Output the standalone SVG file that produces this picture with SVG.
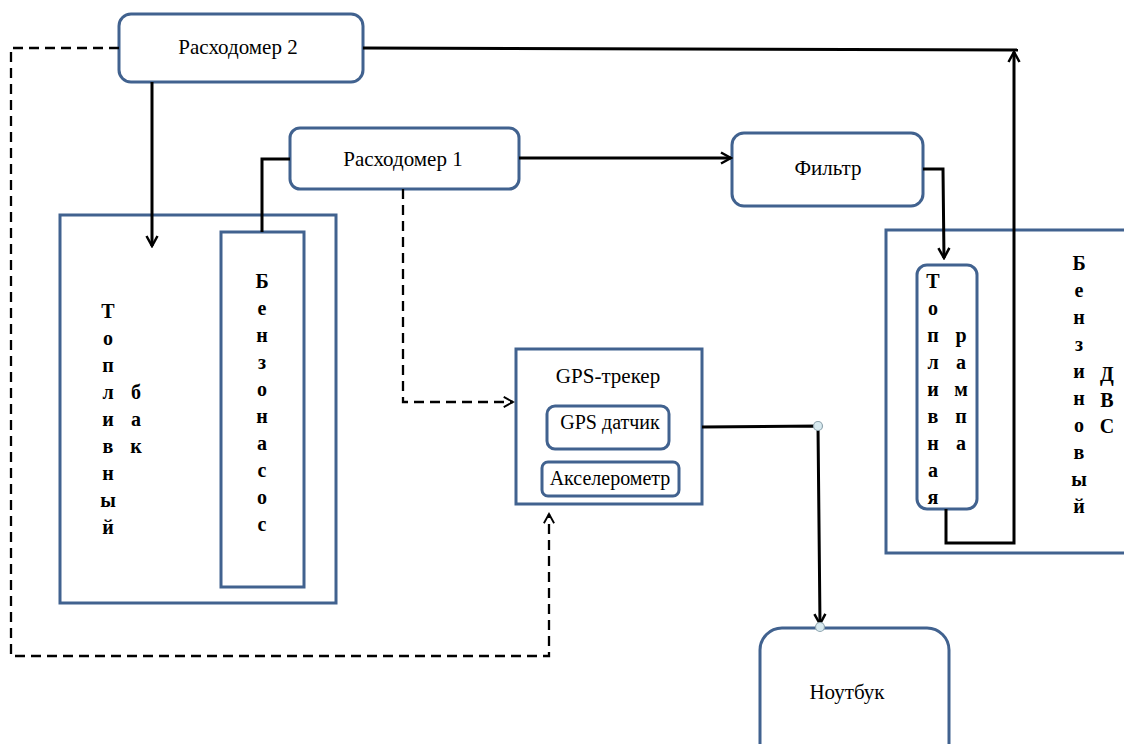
<svg xmlns="http://www.w3.org/2000/svg" width="1124" height="744" viewBox="0 0 1124 744">
<style>
.box{fill:#fff;stroke:#41628f;stroke-width:3}
.t{font-family:"Liberation Serif",serif;font-size:21px;fill:#000;text-anchor:middle}
.s{font-size:20px}
.v{font-family:"Liberation Serif",serif;font-size:20px;font-weight:bold;fill:#000;text-anchor:middle}
.ln{fill:none;stroke:#000;stroke-width:3}
.dash{fill:none;stroke:#000;stroke-width:2.3;stroke-dasharray:10,6}
.dot{fill:#d8eaf0;stroke:#8fa4ae;stroke-width:1.2}
</style>
<defs>
<marker id="arr" viewBox="0 0 14 14" refX="12" refY="7" markerWidth="14" markerHeight="14" markerUnits="userSpaceOnUse" orient="auto">
<path d="M2,1.5 L12,7 L2,12.5" fill="none" stroke="#000" stroke-width="2.5"/>
</marker>
<marker id="arrd" viewBox="0 0 14 14" refX="12" refY="7" markerWidth="13" markerHeight="13" markerUnits="userSpaceOnUse" orient="auto">
<path d="M2,1.5 L12,7 L2,12.5" fill="none" stroke="#000" stroke-width="2"/>
</marker>
</defs>
<rect width="1124" height="744" fill="#fff"/>

<g id="tank">
<rect class="box" x="60" y="215" width="276" height="388"/>
<text class="v" x="108" y="318">Т</text>
<text class="v" x="108" y="345">о</text>
<text class="v" x="108" y="372">п</text>
<text class="v" x="108" y="399">л</text>
<text class="v" x="108" y="426">и</text>
<text class="v" x="108" y="453">в</text>
<text class="v" x="108" y="480">н</text>
<text class="v" x="108" y="507">ы</text>
<text class="v" x="108" y="534">й</text>
<text class="v" x="136" y="399">б</text>
<text class="v" x="136" y="426">а</text>
<text class="v" x="136" y="453">к</text>
</g>
<g id="pump">
<rect class="box" x="221" y="232" width="83" height="355"/>
<text class="v" x="262" y="288">Б</text>
<text class="v" x="262" y="315">е</text>
<text class="v" x="262" y="342">н</text>
<text class="v" x="262" y="369">з</text>
<text class="v" x="262" y="396">о</text>
<text class="v" x="262" y="423">н</text>
<text class="v" x="262" y="450">а</text>
<text class="v" x="262" y="477">с</text>
<text class="v" x="262" y="504">о</text>
<text class="v" x="262" y="531">с</text>
</g>
<g id="flow2">
<rect class="box" x="119" y="14" width="244" height="68" rx="12"/>
<text class="t" x="238" y="54">Расходомер 2</text>
</g>
<g id="flow1">
<rect class="box" x="290" y="128" width="229" height="61" rx="10"/>
<text class="t" x="403" y="166">Расходомер 1</text>
</g>
<g id="filter">
<rect class="box" x="732" y="133" width="191" height="73" rx="12"/>
<text class="t" x="828" y="175">Фильтр</text>
</g>
<g id="engine">
<rect class="box" x="886" y="230" width="250" height="323"/>
<text class="v" x="1079" y="270">Б</text>
<text class="v" x="1079" y="297">е</text>
<text class="v" x="1079" y="324">н</text>
<text class="v" x="1079" y="351">з</text>
<text class="v" x="1079" y="378">и</text>
<text class="v" x="1079" y="405">н</text>
<text class="v" x="1079" y="432">о</text>
<text class="v" x="1079" y="459">в</text>
<text class="v" x="1079" y="486">ы</text>
<text class="v" x="1079" y="513">й</text>
<text class="v" x="1107" y="381">Д</text>
<text class="v" x="1107" y="407">В</text>
<text class="v" x="1107" y="433">С</text>
</g>
<g id="rail">
<rect class="box" x="917" y="265" width="60" height="244" rx="10"/>
<text class="v" x="933" y="288">Т</text>
<text class="v" x="933" y="315">о</text>
<text class="v" x="933" y="342">п</text>
<text class="v" x="933" y="369">л</text>
<text class="v" x="933" y="396">и</text>
<text class="v" x="933" y="423">в</text>
<text class="v" x="933" y="450">н</text>
<text class="v" x="933" y="477">а</text>
<text class="v" x="933" y="504">я</text>
<text class="v" x="961" y="342">р</text>
<text class="v" x="961" y="369">а</text>
<text class="v" x="961" y="396">м</text>
<text class="v" x="961" y="423">п</text>
<text class="v" x="961" y="450">а</text>
</g>
<g id="gps">
<rect class="box" x="516" y="349" width="186" height="155"/>
<text class="t" x="608" y="383">GPS-трекер</text>
</g>
<g id="gps-sensor">
<rect class="box" x="547" y="406" width="122" height="43" rx="8"/>
<text class="t s" x="610" y="429">GPS датчик</text>
</g>
<g id="accel">
<rect class="box" x="542" y="462" width="137" height="34" rx="6"/>
<text class="t s" x="610" y="485">Акселерометр</text>
</g>
<g id="laptop">
<rect class="box" x="760" y="628" width="189" height="140" rx="22"/>
<text class="t" x="847" y="699">Ноутбук</text>
</g>

<g id="connectors">
<path class="ln" d="M152,82 L152,246" marker-end="url(#arr)"/>
<path class="ln" d="M290,159 L262,159 L262,232"/>
<path class="ln" d="M519,158 L731,158" marker-end="url(#arr)"/>
<path class="ln" d="M923,169 L943,169 L944,258" marker-end="url(#arr)"/>
<path class="ln" d="M363,48 L1018,50"/>
<path class="ln" d="M946,509 L946,543 L1014,543 L1014,52" marker-end="url(#arr)"/>
<path class="dash" d="M119,48 L11,48 L11,656 L549,656 L549,514" marker-end="url(#arrd)"/>
<path class="dash" d="M403,189 L403,402 L513,402" marker-end="url(#arrd)"/>
<path class="ln" d="M702,427 L818,426 L820,624" marker-end="url(#arr)"/>
<circle class="dot" cx="818" cy="426" r="4.5"/>
<circle class="dot" cx="820" cy="627" r="4.5"/>
</g>
</svg>
